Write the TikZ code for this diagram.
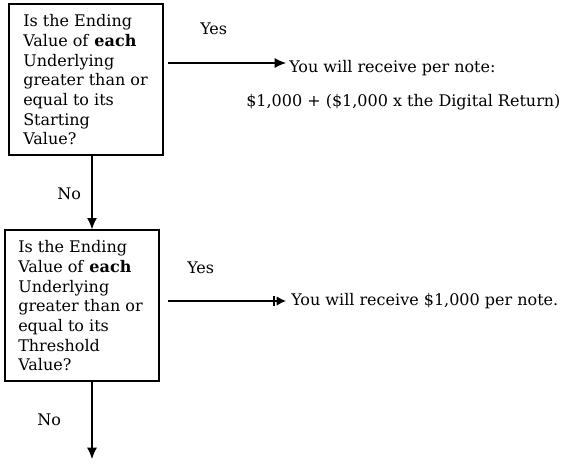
\documentclass[tikz,border=0pt]{standalone}
\usepackage{fontspec}
\setmainfont{DejaVu Serif}
\usetikzlibrary{arrows.meta}
\tikzset{
  qbox/.style={draw, line width=1pt, minimum width=115.5pt, minimum height=113.25pt, inner sep=0pt},
  qtext/.style={inner sep=0pt, anchor=north west, align=left,
    font=\fontsize{12pt}{14.75pt}\selectfont},
  lbl/.style={inner sep=0pt, anchor=base west, font=\fontsize{12pt}{14.75pt}\selectfont},
  conn/.style={line width=0.9pt, -{Latex[length=8.5pt,width=7.5pt]}}
}
\begin{document}
\begin{tikzpicture}[x=0.75pt,y=-0.75pt]
\useasboundingbox (0,0) rectangle (565,464);
\node[qbox] (q1) at (86,79.5) {};
\node[qtext] (q1t) at (23,14.5) {Is the Ending\\Value of \textbf{each}\\Underlying\\greater than or\\equal to its\\Starting\\Value?};
\node[qbox] (q2) at (82,305.5) {};
\node[qtext] (q2t) at (18,240.5) {Is the Ending\\Value of \textbf{each}\\Underlying\\greater than or\\equal to its\\Threshold\\Value?};
\node[lbl] (yes1) at (200,34) {Yes};
\node[lbl] (r1) at (289,72) {You will receive per note:};
\node[lbl] (r1b) at (246,106) {\$1,000 + (\$1,000 x the Digital Return)};
\node[lbl] (no1) at (57,199) {No};
\node[lbl] (yes2) at (187,273) {Yes};
\node[lbl] (r2) at (291,305) {You will receive \$1,000 per note.};
\node[lbl] (no2) at (37,425) {No};
\coordinate (a1s) at (168,63);
\coordinate (a1e) at (286,63);
\coordinate (a2s) at (168,301);
\coordinate (a2e) at (286,301);
\draw[conn] (a1s) -- (a1e);
\draw[line width=0.9pt, -{Rectangle[length=2pt,width=7pt,sep=1pt]Latex[length=7pt,width=7pt]}] (a2s) -- (a2e);
\draw[conn] (q1.south -| 92,0) -- (q2.north -| 92,0);
\draw[conn] (q2.south -| 92,0) coordinate (d2s) -- (92,459) coordinate (d2e);
\end{tikzpicture}
\end{document}
